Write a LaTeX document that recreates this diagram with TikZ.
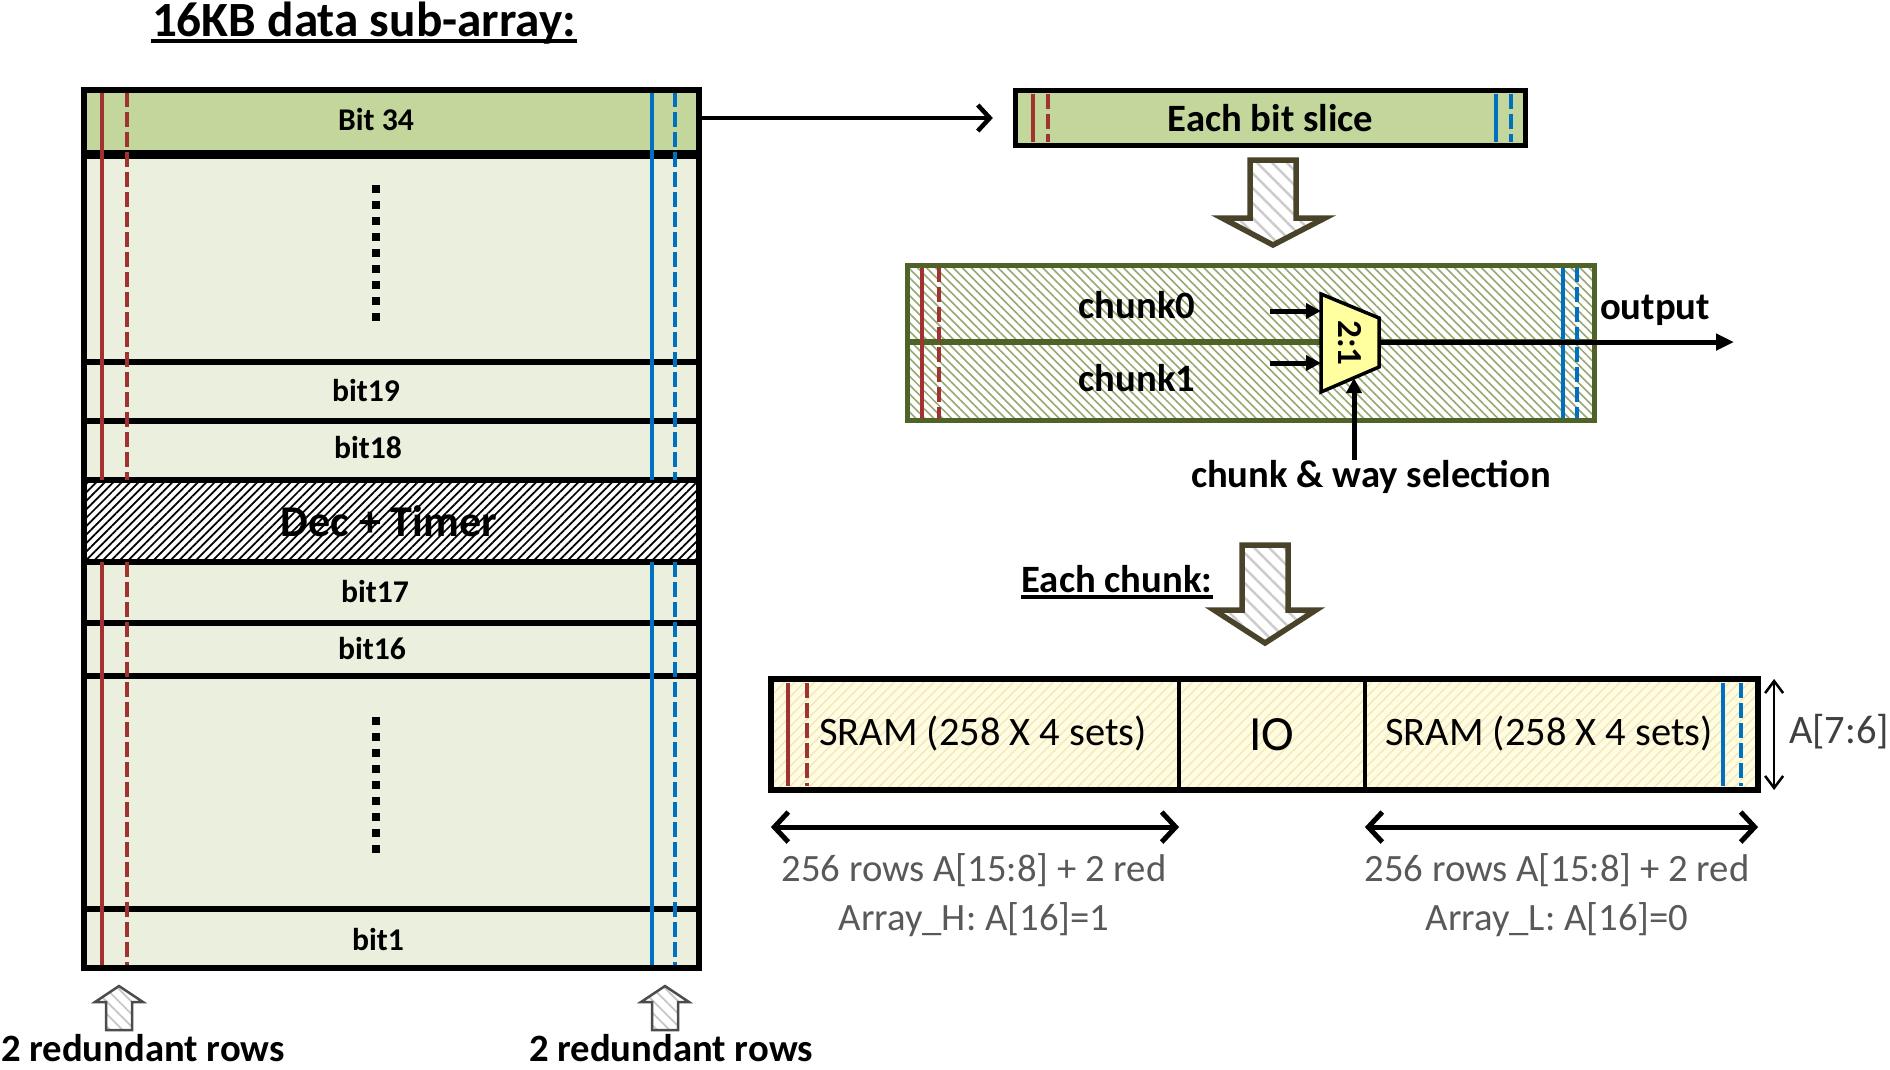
\documentclass[tikz,border=0pt]{standalone}
\usepackage{fontspec}
\setmainfont{Carlito}
\usetikzlibrary{arrows.meta, patterns.meta, positioning}
\definecolor{redrow}{RGB}{160,50,48}
\definecolor{bluerow}{RGB}{0,112,192}
\definecolor{slicegreen}{RGB}{195,214,155}
\definecolor{rowgreen}{RGB}{235,240,222}
\definecolor{chunkolive}{RGB}{79,98,40}
\definecolor{hatcholive}{RGB}{150,168,110}
\definecolor{arrowbrown}{RGB}{73,68,41}
\definecolor{muxyellow}{RGB}{255,255,160}
\definecolor{sramyellow}{RGB}{255,252,226}
\definecolor{sramhatch}{RGB}{242,232,188}
\definecolor{labelgray}{RGB}{89,89,89}

\begin{document}
\begin{tikzpicture}[x=0.01cm, y=-0.01cm,
    boldtxt/.style={inner sep=0pt, font=\bfseries\fontsize{11}{13}\selectfont},
    rowlab/.style={inner sep=0pt, font=\bfseries\fontsize{9}{11}\selectfont},
    graylab/.style={inner sep=0pt, text=labelgray, font=\fontsize{11}{13}\selectfont},
    sramtxt/.style={inner sep=0pt, font=\fontsize{11.5}{13}\selectfont},
    redsolid/.style={redrow, line width=0.045cm},
    reddash/.style={redsolid, dash pattern=on 0.15cm off 0.05cm},
    bluesolid/.style={bluerow, line width=0.045cm},
    bluedash/.style={bluesolid, dash pattern=on 0.15cm off 0.05cm},
    divline/.style={line width=0.055cm},
    vdots/.style={line width=0.08cm, dash pattern=on 0.08cm off 0.08cm},
    hollowdown/.style={draw=arrowbrown, line width=0.055cm, line join=miter,
      pattern={Lines[angle=-45, distance=3pt, line width=0.7pt]}, pattern color=gray!40},
    hollowup/.style={draw=black!70, line width=0.025cm, line join=miter,
      pattern={Lines[angle=-45, distance=2.5pt, line width=0.5pt]}, pattern color=gray!45},
    flow/.style={line width=0.045cm, -{Straight Barb[length=0.12cm, width=0.26cm]}},
    muxin/.style={line width=0.05cm, -{Triangle[length=0.15cm, width=0.15cm]}},
    dimarrow/.style={line width=0.05cm,
      {Straight Barb[length=0.14cm, width=0.3cm]}-{Straight Barb[length=0.14cm, width=0.3cm]}},
    slicebox/.style={draw, line width=0.05cm, fill=slicegreen, outer sep=0pt,
      font=\bfseries\fontsize{11}{13}\selectfont},
    sramcell/.style={draw, line width=0.035cm, outer sep=0pt, minimum height=1.11cm,
      preaction={fill=sramyellow},
      pattern={Lines[angle=45, distance=2pt, line width=0.4pt]}, pattern color=sramhatch}
  ]
  \useasboundingbox (0,0) rectangle (1890,1069);

  % title
  \node[inner sep=0pt, anchor=base, font=\bfseries\fontsize{14}{16}\selectfont] (title) at (364,36) {16KB data sub-array:};
  \draw[line width=0.035cm] ([yshift=-0.05cm]title.base west) -- ([yshift=-0.05cm]title.base east);

  % sub-array rows
  \fill[rowgreen] (84,90) rectangle (699,968);
  \fill[slicegreen] (84,90) rectangle (699,154);
  \fill[white] (84,480) rectangle (699,562);
  \fill[pattern={Lines[angle=45, distance=1.7pt, line width=0.5pt]}] (84,480) rectangle (699,562);
  \foreach \y in {362,421,480,562,623,676,909}
    \draw[divline] (84,\y) -- (699,\y);
  \draw[line width=0.09cm] (84,154) -- (699,154);
  % redundant rows
  \foreach \ya/\yb in {92/480, 562/966} {
    \draw[redsolid] (102,\ya) -- (102,\yb);
    \draw[reddash] (127,\ya) -- (127,\yb);
    \draw[bluesolid] (652,\ya) -- (652,\yb);
    \draw[bluedash] (675,\ya) -- (675,\yb);
  }
  \draw[line width=0.06cm] (84,90) rectangle (699,968);
  \draw[vdots] (376,185) -- (376,321);
  \draw[vdots] (376,717) -- (376,853);

  \node[rowlab] (b34) at (376,120) {Bit 34};
  \node[rowlab] (b19) at (366,391) {bit19};
  \node[rowlab] (b18) at (368,448) {bit18};
  \node[inner sep=0pt, font=\bfseries\fontsize{12.5}{14}\selectfont] (dec) at (389,521) {Dec + Timer};
  \node[rowlab] (b17) at (375,591) {bit17};
  \node[rowlab] (b16) at (372,648) {bit16};
  \node[rowlab] (b1) at (378,939) {bit1};

  % redundant row arrows
  \foreach \ax in {119, 665}
    \draw[hollowup] (\ax-13,1030) -- (\ax-13,1002) -- (\ax-24,1002) -- (\ax,986)
      -- (\ax+24,1002) -- (\ax+13,1002) -- (\ax+13,1030) -- cycle;
  \node[boldtxt, anchor=base] (redL) at (143,1061) {2 redundant rows};
  \node[boldtxt, anchor=base] (redR) at (671,1061) {2 redundant rows};

  % bit slice
  \coordinate (b34out) at (699,118);
  \node[slicebox, minimum width=5.09cm, minimum height=0.54cm] (slice) at (1270.5,118) {Each bit slice};
  \draw[redsolid] (1033,94) -- (1033,142);
  \draw[reddash] (1048,94) -- (1048,142);
  \draw[bluesolid] (1496,94) -- (1496,142);
  \draw[bluedash] (1511,94) -- (1511,142);
  \draw[flow, shorten >=0.23cm] (b34out) -- (slice.west);

  \draw[hollowdown] (1250,160) -- (1296,160) -- (1296,218) -- (1325,218) -- (1273,245)
    -- (1222,218) -- (1250,218) -- cycle;

  % chunks and mux
  \fill[white] (907,265) rectangle (1594,420);
  \fill[pattern={Lines[angle=-45, distance=1.8pt, line width=0.45pt]}, pattern color=hatcholive]
    (907,265) rectangle (1594,420);
  \draw[chunkolive, line width=0.06cm] (907,342) -- (1594,342);
  \draw[redsolid] (922,267) -- (922,418);
  \draw[reddash] (939,267) -- (939,418);
  \draw[bluesolid] (1563,267) -- (1563,418);
  \draw[bluedash] (1577,267) -- (1577,418);
  \draw[chunkolive, line width=0.05cm] (907,265) rectangle (1594,420);

  \node[boldtxt] (c0) at (1137,305) {chunk0};
  \node[boldtxt] (c1) at (1137,378) {chunk1};
  \filldraw[fill=muxyellow, line width=0.035cm, line join=miter]
    (1321,294) -- (1379,318) -- (1379,367) -- (1321,392) -- cycle;
  \node[inner sep=0pt, rotate=-90, font=\bfseries\fontsize{10}{12}\selectfont] (mux) at (1350,343) {2:1};
  \coordinate (in0) at (1321,311);
  \coordinate (in1) at (1321,363);
  \coordinate (src0) at (1270,311);
  \coordinate (src1) at (1270,363);
  \coordinate (muxout) at (1379,342);
  \coordinate (dst) at (1734,342);
  \coordinate (muxsel) at (1354,378);
  \draw[muxin] (src0) -- (in0);
  \draw[muxin] (src1) -- (in1);
  \draw[line width=0.05cm, -{Triangle[length=0.18cm, width=0.16cm]}] (muxout) -- (dst);
  \node[boldtxt] (outlab) at (1655,310) {output};
  \node[boldtxt] (sel) at (1371,477) {chunk \& way selection};
  \draw[muxin] (sel.north -| muxsel) -- (muxsel);

  % each chunk
  \draw[hollowdown] (1242,545) -- (1288,545) -- (1288,610) -- (1316,610) -- (1265,643)
    -- (1214,610) -- (1242,610) -- cycle;
  \node[boldtxt, anchor=base] (each) at (1117,592) {Each chunk:};
  \draw[line width=0.035cm] ([yshift=-0.05cm]each.base west) -- ([yshift=-0.05cm]each.base east);

  \node[sramcell, minimum width=4.08cm] (sramH) at (975,734.5) {};
  \node[sramcell, minimum width=1.86cm, font=\fontsize{14}{16}\selectfont] (iocell) at (1272,734.5) {IO};
  \node[sramcell, minimum width=3.93cm] (sramL) at (1561.5,734.5) {};
  \draw[redsolid] (788,683) -- (788,786);
  \draw[reddash] (807,683) -- (807,786);
  \draw[bluesolid] (1723,683) -- (1723,786);
  \draw[bluedash] (1741,683) -- (1741,786);
  \draw[line width=0.06cm] (sramH.north west) rectangle (sramL.south east);
  \node[sramtxt] (sramHtxt) at (983,733) {SRAM (258 X 4 sets)};
  \node[sramtxt] (sramLtxt) at (1549,733) {SRAM (258 X 4 sets)};

  \draw[dimarrow] ([yshift=-0.37cm]sramH.south west) -- ([yshift=-0.37cm]sramH.south east);
  \draw[dimarrow] ([yshift=-0.37cm]sramL.south west) -- ([yshift=-0.37cm]sramL.south east);
  \draw[line width=0.025cm, {Straight Barb[length=0.12cm, width=0.18cm]}-{Straight Barb[length=0.12cm, width=0.18cm]}]
    ([xshift=0.16cm]sramL.north east) -- ([xshift=0.16cm]sramL.south east);
  \node[inner sep=0pt, text=black!75, font=\fontsize{11.5}{13}\selectfont] (addr) at (1839,732) {A[7:6]};

  \node[graylab] (rowsH) at (974,870) {256 rows A[15:8] + 2 red};
  \node[graylab] (arrH) at (974,920) {Array\_H: A[16]=1};
  \node[graylab] (rowsL) at (1557,870) {256 rows A[15:8] + 2 red};
  \node[graylab] (arrL) at (1557,920) {Array\_L: A[16]=0};
\end{tikzpicture}
\end{document}
